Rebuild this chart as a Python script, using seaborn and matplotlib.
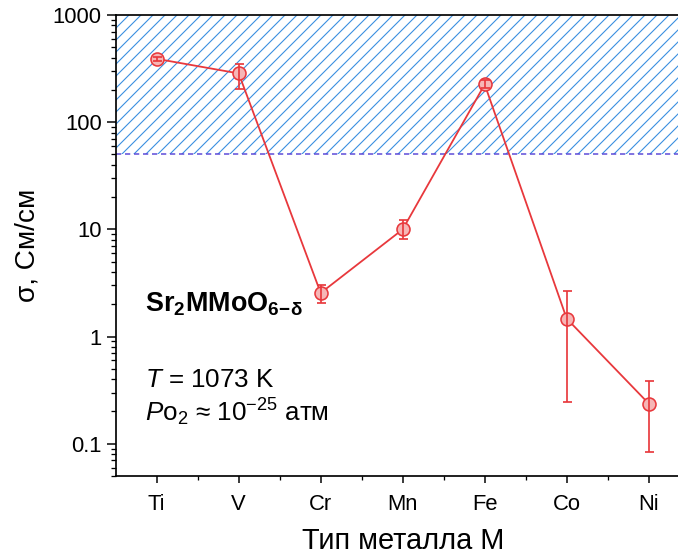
import numpy as np
import pandas as pd
import matplotlib
matplotlib.use("Agg")
import matplotlib.pyplot as plt
import matplotlib.ticker as mticker
import seaborn as sns

metals = ["Ti", "V", "Cr", "Mn", "Fe", "Co", "Ni"]
sigma = [390, 285, 2.55, 10.0, 225, 1.47, 0.237]
err_high = [410, 350, 3.05, 12.1, 248, 2.68, 0.388]
err_low = [370, 205, 2.06, 8.1, 207, 0.247, 0.083]
threshold = 50
ymax = 1000
ytick_vals = [0.1, 1, 10, 100, 1000]
ytick_labels = ["0.1", "1", "10", "100", "1000"]

sns.set_style("ticks")
plt.rcParams["font.family"] = ["Liberation Sans", "DejaVu Sans"]
plt.rcParams["mathtext.fontset"] = "custom"
plt.rcParams["mathtext.rm"] = "Liberation Sans"
plt.rcParams["mathtext.it"] = "Liberation Sans:italic"
plt.rcParams["mathtext.bf"] = "Liberation Sans:bold"
plt.rcParams["hatch.linewidth"] = 1.1
for k in ["text.color", "axes.labelcolor", "xtick.color", "ytick.color"]:
    plt.rcParams[k] = "black"

DPI = 72
fig = plt.figure(figsize=(678 / DPI, 558 / DPI), dpi=DPI)
ax = fig.add_axes([115.7 / 678, 82 / 558, 574 / 678, 461 / 558])

red = "#e8383c"
face = "#f6b6b6"

df = pd.DataFrame({"metal": metals, "sigma": sigma})
ax.axhspan(threshold, ymax, facecolor="none", edgecolor="#3a8fe0", hatch="//", linewidth=0, zorder=1)
ax.axhline(threshold, color="#5a48d8", lw=1.5, ls=(0, (3.5, 2.5)), zorder=2)

sns.lineplot(data=df, x="metal", y="sigma", ax=ax, color=red, lw=1.8, marker="o",
             markersize=13, markerfacecolor=face, markeredgecolor=red, markeredgewidth=1.6,
             zorder=3, sort=False)
xpos = np.arange(len(metals))
yerr = np.array([np.array(sigma) - np.array(err_low), np.array(err_high) - np.array(sigma)])
ax.errorbar(xpos, sigma, yerr=yerr, fmt="none", ecolor=red, elinewidth=1.7, capsize=4.5,
            capthick=1.7, zorder=4)

ax.set_yscale("log")
ax.set_ylim(0.05, ymax)
ax.set_xlim(-0.5, 6.5)
ax.set_yticks(ytick_vals)
ax.set_yticklabels(ytick_labels)
ax.yaxis.set_minor_locator(mticker.LogLocator(base=10, subs=np.arange(2, 10)))
ax.yaxis.set_minor_formatter(mticker.NullFormatter())
ax.set_xticks(xpos)
ax.set_xticklabels(metals)
ax.xaxis.set_minor_locator(mticker.FixedLocator(xpos[:-1] + 0.5))

for s in ["left", "bottom", "top"]:
    ax.spines[s].set_linewidth(1.7)
    ax.spines[s].set_color("black")
ax.spines["right"].set_visible(False)
ax.tick_params(axis="both", which="major", direction="out", length=9, width=1.5,
               labelsize=22, colors="black", pad=5)
ax.tick_params(axis="both", which="minor", direction="out", length=5, width=1.3, colors="black")
ax.tick_params(axis="x", which="major", length=7, pad=11)
ax.tick_params(axis="x", which="minor", length=4)

ax.set_xlabel("Тип металла M", fontsize=29, labelpad=12, color="black")
ax.set_ylabel("σ, См/см", fontsize=28, labelpad=12, color="black")

ax.text(0.051, 0.356, r"$\mathbf{Sr_2MMoO_{6\!-\!\delta}}$", transform=ax.transAxes,
        fontsize=27, va="baseline", ha="left", color="black")
ax.text(0.051, 0.192, r"$\mathit{T}$ = 1073 K", transform=ax.transAxes,
        fontsize=26, va="baseline", ha="left", color="black")
ax.text(0.051, 0.119, r"$\mathit{P}$o$_2$ ≈ 10$^{-25}$ атм", transform=ax.transAxes,
        fontsize=26, va="baseline", ha="left", color="black")

fig.savefig("out.png", dpi=DPI)
